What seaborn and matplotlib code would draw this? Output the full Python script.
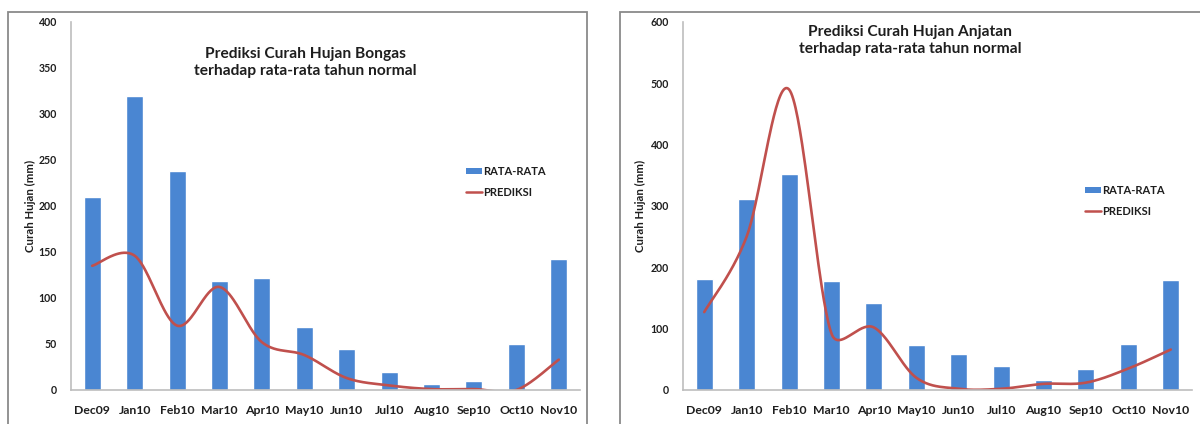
import numpy as np
import pandas as pd
import matplotlib
matplotlib.use("Agg")
import matplotlib.pyplot as plt
from matplotlib.patches import Rectangle, Patch
from matplotlib.lines import Line2D
import seaborn as sns

months = ["Dec09", "Jan10", "Feb10", "Mar10", "Apr10", "May10",
          "Jun10", "Jul10", "Aug10", "Sep10", "Oct10", "Nov10"]

bongas_rata = [210, 320, 238, 119, 122, 68, 45, 20, 6, 10, 50, 142]
bongas_pred = [135, 146, 70, 112, 52, 38, 13, 5, 1, 1, 0, 33]

anjatan_rata = [181, 312, 352, 177, 142, 74, 58, 39, 17, 35, 75, 179]
anjatan_pred = [127, 250, 490, 92, 102, 20, 2, 2, 10, 12, 35, 66]

titles = ["Prediksi Curah Hujan Bongas\nterhadap rata-rata tahun normal",
          "Prediksi Curah Hujan Anjatan\nterhadap rata-rata tahun normal"]
ylabel = "Curah Hujan (mm)"
legend_labels = ["RATA-RATA", "PREDIKSI"]

BLUE = "#4A86D2"
RED = "#C0504D"
TXT = "#1e1e1e"
AXC = "#bdbdbd"

sns.set_theme(style="white")
plt.rcParams["font.family"] = ["Lato", "DejaVu Sans"]
plt.rcParams["font.weight"] = "bold"


def smooth(yvals, xscale, yscale, n=40):
    """Excel-style smoothed line: Bezier segments through the data points,
    control points at 1/6 of the neighbour span, capped at half the segment
    length (computed in screen space)."""
    y = np.asarray(yvals, float)
    x = np.arange(len(y), dtype=float)
    S = np.column_stack([x * xscale, y * yscale])
    P = np.vstack([S[0], S, S[-1]])
    out = []
    for i in range(1, len(P) - 2):
        p0, p1, p2, p3 = P[i - 1], P[i], P[i + 1], P[i + 2]
        d12 = np.linalg.norm(p2 - p1)
        v1 = (p2 - p0) / 6.0
        v2 = (p3 - p1) / 6.0
        n1, n2 = np.linalg.norm(v1), np.linalg.norm(v2)
        if n1 > d12 / 2 and n1 > 0:
            v1 = v1 * (d12 / 2) / n1
        if n2 > d12 / 2 and n2 > 0:
            v2 = v2 * (d12 / 2) / n2
        c1 = p1 + v1
        c2 = p2 - v2
        t = np.linspace(0, 1, n)[:, None]
        seg = ((1 - t) ** 3) * p1 + 3 * ((1 - t) ** 2) * t * c1 + 3 * (1 - t) * t ** 2 * c2 + t ** 3 * p2
        out.append(seg if i == 1 else seg[1:])
    out = np.vstack(out)
    return out[:, 0] / xscale, out[:, 1] / yscale


fig = plt.figure(figsize=(12, 4.24), dpi=100)

# chart area frames
fig.patches.append(Rectangle((8 / 1200, -0.05), (587 - 8) / 1200, 0.05 + (424 - 12) / 424,
                             transform=fig.transFigure, fill=False, ec="#8a8a8a", lw=1.3))
fig.patches.append(Rectangle((620 / 1200, -0.05), 0.6, 0.05 + (424 - 12) / 424,
                             transform=fig.transFigure, fill=False, ec="#8a8a8a", lw=1.3))

bottom = (424 - 390) / 424
height = 368 / 424
configs = [
    dict(left=71 / 1200, rata=bongas_rata, pred=bongas_pred, ymax=400, step=50,
         title=titles[0], tx=305 / 1200, ty=(424 - 47) / 424,
         leg=(466 / 1200, (424 - 166) / 424), ylx=30 / 1200),
    dict(left=683 / 1200, rata=anjatan_rata, pred=anjatan_pred, ymax=600, step=100,
         title=titles[1], tx=910 / 1200, ty=(424 - 25) / 424,
         leg=(1085 / 1200, (424 - 185) / 424), ylx=640 / 1200),
]

for cfg in configs:
    ax = fig.add_axes([cfg["left"], bottom, 509 / 1200, height])
    df = pd.DataFrame({"month": months, "rata": cfg["rata"]})
    sns.barplot(data=df, x="month", y="rata", ax=ax, color=BLUE, saturation=1,
                width=0.4, order=months)
    xs, ys = smooth(cfg["pred"], 509 / 12, 368 / cfg["ymax"])
    sns.lineplot(x=xs, y=ys, ax=ax, color=RED, lw=1.9, sort=False, estimator=None)

    ax.set_xlim(-0.5, 11.5)
    ax.set_ylim(0, cfg["ymax"])
    ax.set_yticks(np.arange(0, cfg["ymax"] + 1, cfg["step"]))
    ax.set_xticks(range(12))
    ax.set_xticklabels(months, fontsize=8.8, fontweight="bold", color=TXT)
    ax.set_xticks(np.arange(-0.5, 12, 1), minor=True)
    ax.tick_params(axis="x", which="major", length=0, pad=11)
    ax.tick_params(axis="x", which="minor", length=4, width=1, color=AXC, direction="out")
    ax.tick_params(axis="y", length=4, width=1, color=AXC, direction="out",
                   labelsize=7.6, labelcolor=TXT, pad=6)
    for lab in ax.get_yticklabels():
        lab.set_fontweight("bold")
    for s in ["top", "right"]:
        ax.spines[s].set_visible(False)
    for s in ["left", "bottom"]:
        ax.spines[s].set_color(AXC)
        ax.spines[s].set_linewidth(1.2)
    ax.set_xlabel("")
    ax.set_ylabel("")
    fig.text(cfg["ylx"], bottom + height / 2, ylabel, rotation=90, ha="center", va="center",
             fontsize=8.2, fontweight="bold", color=TXT)
    fig.text(cfg["tx"], cfg["ty"], cfg["title"], ha="center", va="top", fontsize=11.2,
             fontweight="bold", color=TXT, linespacing=1.3)
    handles = [Patch(facecolor=BLUE, edgecolor="none"),
               Line2D([0], [0], color=RED, lw=1.8)]
    fig.legend(handles, legend_labels, loc="upper left", bbox_to_anchor=cfg["leg"],
               frameon=False, handlelength=1.4, handleheight=0.5,
               handletextpad=0.15, labelspacing=0.9, borderpad=0, borderaxespad=0,
               labelcolor=TXT, prop={"weight": "bold", "size": 8})
    ax.set_facecolor("none")

fig.patch.set_facecolor("white")
fig.savefig("out.png", dpi=100, facecolor="white")
